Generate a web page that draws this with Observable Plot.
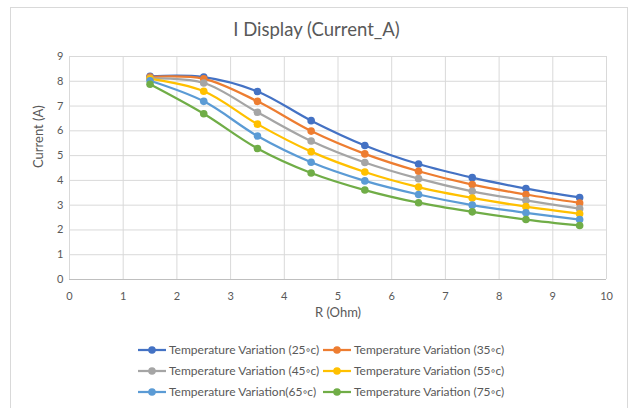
<!DOCTYPE html>
<html>
<head>
<meta charset="utf-8">
<script src="https://cdn.jsdelivr.net/npm/d3@7"></script>
<script src="https://cdn.jsdelivr.net/npm/@observablehq/plot@0.6"></script>
<style>
  body { margin: 0; background: #fff; font-family: Lato, "Open Sans", sans-serif; }
  #wrap { position: relative; width: 633px; height: 408px; overflow: hidden; background: #fff; }
  #frame { position: absolute; left: 10px; top: 7px; width: 618px; height: 420px; border: 1px solid #d9d9d9; box-sizing: border-box; }
  #title { position: absolute; left: 0; top: 17px; width: 633px; height: 24px; line-height: 24px; text-align: center; font-size: 18.5px; color: #595959; }
  #chart { position: absolute; left: 0; top: 46px; }
  #legend { position: absolute; left: 138px; top: 339px; display: grid; grid-template-columns: 185px 185px; grid-auto-rows: 21px; font-size: 12px; color: #595959; }
  .item { display: flex; align-items: center; white-space: nowrap; }
  .item svg { margin-right: 3px; }
</style>
</head>
<body>
<div id="wrap">
  <div id="frame"></div>
  <div id="title">I Display (Current_A)</div>
  <div id="chart"></div>
  <div id="legend"></div>
</div>
<script>
const rValues = [1.5, 2.5, 3.5, 4.5, 5.5, 6.5, 7.5, 8.5, 9.5];
const seriesNames = [
  "Temperature Variation (25◦c)",
  "Temperature Variation (35◦c)",
  "Temperature Variation (45◦c)",
  "Temperature Variation (55◦c)",
  "Temperature Variation(65◦c)",
  "Temperature Variation (75◦c)"
];
const seriesColors = ["#4472C4", "#ED7D31", "#A5A5A5", "#FFC000", "#5B9BD5", "#70AD47"];
const t25 = [8.20, 8.17, 7.59, 6.41, 5.41, 4.66, 4.11, 3.67, 3.31];
const t35 = [8.17, 8.10, 7.19, 5.99, 5.07, 4.37, 3.83, 3.43, 3.09];
const t45 = [8.12, 7.93, 6.75, 5.59, 4.72, 4.07, 3.56, 3.19, 2.86];
const t55 = [8.10, 7.60, 6.27, 5.16, 4.34, 3.73, 3.29, 2.94, 2.65];
const t65 = [8.02, 7.19, 5.79, 4.73, 3.98, 3.43, 3.00, 2.69, 2.42];
const t75 = [7.88, 6.69, 5.29, 4.30, 3.61, 3.10, 2.73, 2.42, 2.18];
const xTicks = [0, 1, 2, 3, 4, 5, 6, 7, 8, 9, 10];
const yTicks = [0, 1, 2, 3, 4, 5, 6, 7, 8, 9];
const xLabel = "R (Ohm)";
const yLabel = "Current (A)";

const seriesValues = [t25, t35, t45, t55, t65, t75];
const data = seriesNames.flatMap((name, i) =>
  rValues.map((r, j) => ({ series: name, r, current: seriesValues[i][j] }))
);

const chart = Plot.plot({
  width: 633,
  height: 282,
  marginLeft: 69,
  marginRight: 27,
  marginTop: 10,
  marginBottom: 49,
  style: { fontFamily: "Lato, 'Open Sans', sans-serif", fontSize: "11px", color: "#595959", background: "transparent" },
  x: { domain: [0, 10] },
  y: { domain: [0, 9] },
  color: { domain: seriesNames, range: seriesColors },
  marks: [
    Plot.gridX(xTicks, { stroke: "#d9d9d9", strokeOpacity: 1, strokeWidth: 1 }),
    Plot.gridY(yTicks, { stroke: "#d9d9d9", strokeOpacity: 1, strokeWidth: 1 }),
    Plot.ruleY([0], { stroke: "#bfbfbf", strokeWidth: 1 }),
    Plot.axisX(xTicks, { tickSize: 0, tickPadding: 13, label: null, fill: "#595959" }),
    Plot.axisY(yTicks, { tickSize: 0, tickPadding: 6, label: null, fill: "#595959" }),
    Plot.text([xLabel], { frameAnchor: "bottom", dy: 37, fill: "#595959", fontSize: 13 }),
    Plot.text([yLabel], { frameAnchor: "left", dx: -31, rotate: -90, fill: "#595959", fontSize: 13 }),
    Plot.line(data, { x: "r", y: "current", z: "series", stroke: "series", curve: "catmull-rom", strokeWidth: 2.25 }),
    Plot.dot(data, { x: "r", y: "current", fill: "series", r: 3.8 })
  ]
});
document.getElementById("chart").appendChild(chart);

const legend = document.getElementById("legend");
seriesNames.forEach((name, i) => {
  const item = document.createElement("div");
  item.className = "item";
  item.innerHTML = `<svg width="28" height="10"><line x1="0" y1="5" x2="28" y2="5" stroke="${seriesColors[i]}" stroke-width="2.25"/><circle cx="14" cy="5" r="3.8" fill="${seriesColors[i]}"/></svg><span>${name}</span>`;
  legend.appendChild(item);
});
</script>
</body>
</html>
